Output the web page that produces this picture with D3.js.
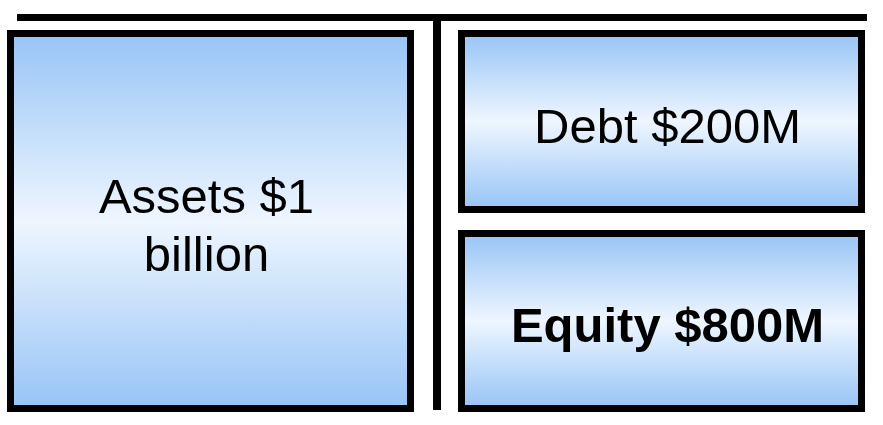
<!DOCTYPE html><html><head><script src="https://d3js.org/d3.v7.min.js"></script>
<style>body{margin:0;background:#fff}</style></head><body><svg width="883" height="425"></svg>
<script>
const boxes=["Assets","Debt","Equity"];
const labels=[["Assets $1","billion"],["Debt $200M"],["Equity $800M"]];
const weights=["normal","normal","bold"];
const svg=d3.select("svg");
const g=svg.append("defs").append("linearGradient").attr("id","gr").attr("x1",0).attr("x2",0).attr("y1",0).attr("y2",1);
[[0,"#97c4f6"],[0.5,"#eef6ff"],[1,"#97c4f6"]].forEach(s=>g.append("stop").attr("offset",s[0]).attr("stop-color",s[1]));
const geo=[[10.5,33.5,400,375],[461.5,33.5,400,176],[461.5,233.5,400,175]];
const dx=[-4,6,6];
svg.append("line").attr("x1",17).attr("x2",867).attr("y1",17.5).attr("y2",17.5).attr("stroke","#000").attr("stroke-width",7);
svg.append("line").attr("x1",437).attr("x2",437).attr("y1",17).attr("y2",410).attr("stroke","#000").attr("stroke-width",8);
boxes.forEach((b,i)=>{const [x,y,w,h]=geo[i];
svg.append("rect").attr("x",x).attr("y",y).attr("width",w).attr("height",h).attr("fill","url(#gr)").attr("stroke","#000").attr("stroke-width",7);
const t=svg.append("text").attr("text-anchor","middle").attr("font-family","Liberation Sans, Arial, sans-serif").attr("font-size",49).attr("font-weight",weights[i]).attr("fill","#000");
const n=labels[i].length;
labels[i].forEach((l,j)=>t.append("tspan").attr("x",x+w/2+dx[i]).attr("y",y+h/2+21+(j-(n-1)/2)*58).text(l));
});
</script></body></html>
